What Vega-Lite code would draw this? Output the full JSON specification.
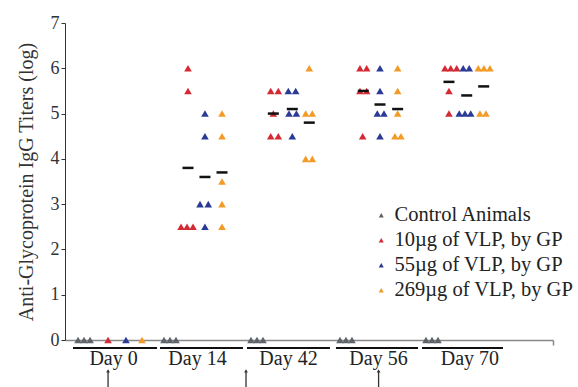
{
  "$schema": "https://vega.github.io/schema/vega-lite/v6.json",
  "width": 488,
  "height": 317,
  "autosize": "none",
  "padding": {"left": 65, "top": 23, "right": 25, "bottom": 47},
  "background": "white",
  "config": {"view": {"stroke": null}, "font": "Liberation Serif"},
  "datasets": {
    "points": [
      {"day": "Day 0", "group": "Control Animals", "titer": 0, "pos": -0.425},
      {"day": "Day 0", "group": "Control Animals", "titer": 0, "pos": -0.356},
      {"day": "Day 0", "group": "Control Animals", "titer": 0, "pos": -0.287},
      {"day": "Day 0", "group": "10µg of VLP, by GP", "titer": 0, "pos": -0.08},
      {"day": "Day 0", "group": "55µg of VLP, by GP", "titer": 0, "pos": 0.126},
      {"day": "Day 0", "group": "269µg of VLP, by GP", "titer": 0, "pos": 0.31},
      {"day": "Day 14", "group": "Control Animals", "titer": 0, "pos": 0.563},
      {"day": "Day 14", "group": "Control Animals", "titer": 0, "pos": 0.632},
      {"day": "Day 14", "group": "Control Animals", "titer": 0, "pos": 0.701},
      {"day": "Day 14", "group": "10µg of VLP, by GP", "titer": 6, "pos": 0.839},
      {"day": "Day 14", "group": "10µg of VLP, by GP", "titer": 5.5, "pos": 0.839},
      {"day": "Day 14", "group": "10µg of VLP, by GP", "titer": 2.5, "pos": 0.759},
      {"day": "Day 14", "group": "10µg of VLP, by GP", "titer": 2.5, "pos": 0.828},
      {"day": "Day 14", "group": "10µg of VLP, by GP", "titer": 2.5, "pos": 0.897},
      {"day": "Day 14", "group": "55µg of VLP, by GP", "titer": 5, "pos": 1.034},
      {"day": "Day 14", "group": "55µg of VLP, by GP", "titer": 4.5, "pos": 1.034},
      {"day": "Day 14", "group": "55µg of VLP, by GP", "titer": 3, "pos": 0.977},
      {"day": "Day 14", "group": "55µg of VLP, by GP", "titer": 3, "pos": 1.072},
      {"day": "Day 14", "group": "55µg of VLP, by GP", "titer": 2.5, "pos": 1.034},
      {"day": "Day 14", "group": "269µg of VLP, by GP", "titer": 5, "pos": 1.23},
      {"day": "Day 14", "group": "269µg of VLP, by GP", "titer": 4.5, "pos": 1.23},
      {"day": "Day 14", "group": "269µg of VLP, by GP", "titer": 3.5, "pos": 1.23},
      {"day": "Day 14", "group": "269µg of VLP, by GP", "titer": 3, "pos": 1.23},
      {"day": "Day 14", "group": "269µg of VLP, by GP", "titer": 2.5, "pos": 1.23},
      {"day": "Day 42", "group": "Control Animals", "titer": 0, "pos": 1.563},
      {"day": "Day 42", "group": "Control Animals", "titer": 0, "pos": 1.632},
      {"day": "Day 42", "group": "Control Animals", "titer": 0, "pos": 1.701},
      {"day": "Day 42", "group": "10µg of VLP, by GP", "titer": 5.5, "pos": 1.79},
      {"day": "Day 42", "group": "10µg of VLP, by GP", "titer": 5.5, "pos": 1.877},
      {"day": "Day 42", "group": "10µg of VLP, by GP", "titer": 5, "pos": 1.82},
      {"day": "Day 42", "group": "10µg of VLP, by GP", "titer": 4.5, "pos": 1.79},
      {"day": "Day 42", "group": "10µg of VLP, by GP", "titer": 4.5, "pos": 1.877},
      {"day": "Day 42", "group": "55µg of VLP, by GP", "titer": 5.5, "pos": 1.992},
      {"day": "Day 42", "group": "55µg of VLP, by GP", "titer": 5.5, "pos": 2.077},
      {"day": "Day 42", "group": "55µg of VLP, by GP", "titer": 5, "pos": 2.0},
      {"day": "Day 42", "group": "55µg of VLP, by GP", "titer": 5, "pos": 2.085},
      {"day": "Day 42", "group": "55µg of VLP, by GP", "titer": 4.5, "pos": 2.038},
      {"day": "Day 42", "group": "269µg of VLP, by GP", "titer": 6, "pos": 2.233},
      {"day": "Day 42", "group": "269µg of VLP, by GP", "titer": 5, "pos": 2.192},
      {"day": "Day 42", "group": "269µg of VLP, by GP", "titer": 5, "pos": 2.268},
      {"day": "Day 42", "group": "269µg of VLP, by GP", "titer": 4, "pos": 2.192},
      {"day": "Day 42", "group": "269µg of VLP, by GP", "titer": 4, "pos": 2.268},
      {"day": "Day 56", "group": "Control Animals", "titer": 0, "pos": 2.586},
      {"day": "Day 56", "group": "Control Animals", "titer": 0, "pos": 2.655},
      {"day": "Day 56", "group": "Control Animals", "titer": 0, "pos": 2.724},
      {"day": "Day 56", "group": "10µg of VLP, by GP", "titer": 6, "pos": 2.816},
      {"day": "Day 56", "group": "10µg of VLP, by GP", "titer": 6, "pos": 2.893},
      {"day": "Day 56", "group": "10µg of VLP, by GP", "titer": 5.5, "pos": 2.816},
      {"day": "Day 56", "group": "10µg of VLP, by GP", "titer": 5.5, "pos": 2.893},
      {"day": "Day 56", "group": "10µg of VLP, by GP", "titer": 4.5, "pos": 2.847},
      {"day": "Day 56", "group": "55µg of VLP, by GP", "titer": 6, "pos": 3.046},
      {"day": "Day 56", "group": "55µg of VLP, by GP", "titer": 5.5, "pos": 3.046},
      {"day": "Day 56", "group": "55µg of VLP, by GP", "titer": 5, "pos": 3.015},
      {"day": "Day 56", "group": "55µg of VLP, by GP", "titer": 5, "pos": 3.092},
      {"day": "Day 56", "group": "55µg of VLP, by GP", "titer": 4.5, "pos": 3.046},
      {"day": "Day 56", "group": "269µg of VLP, by GP", "titer": 6, "pos": 3.249},
      {"day": "Day 56", "group": "269µg of VLP, by GP", "titer": 5.5, "pos": 3.249},
      {"day": "Day 56", "group": "269µg of VLP, by GP", "titer": 5, "pos": 3.249},
      {"day": "Day 56", "group": "269µg of VLP, by GP", "titer": 4.5, "pos": 3.218},
      {"day": "Day 56", "group": "269µg of VLP, by GP", "titer": 4.5, "pos": 3.287},
      {"day": "Day 70", "group": "Control Animals", "titer": 0, "pos": 3.575},
      {"day": "Day 70", "group": "Control Animals", "titer": 0, "pos": 3.644},
      {"day": "Day 70", "group": "Control Animals", "titer": 0, "pos": 3.713},
      {"day": "Day 70", "group": "10µg of VLP, by GP", "titer": 6, "pos": 3.793},
      {"day": "Day 70", "group": "10µg of VLP, by GP", "titer": 6, "pos": 3.859},
      {"day": "Day 70", "group": "10µg of VLP, by GP", "titer": 6, "pos": 3.928},
      {"day": "Day 70", "group": "10µg of VLP, by GP", "titer": 5.5, "pos": 3.839},
      {"day": "Day 70", "group": "10µg of VLP, by GP", "titer": 5, "pos": 3.839},
      {"day": "Day 70", "group": "55µg of VLP, by GP", "titer": 6, "pos": 4.003},
      {"day": "Day 70", "group": "55µg of VLP, by GP", "titer": 6, "pos": 4.072},
      {"day": "Day 70", "group": "55µg of VLP, by GP", "titer": 5, "pos": 3.957},
      {"day": "Day 70", "group": "55µg of VLP, by GP", "titer": 5, "pos": 4.023},
      {"day": "Day 70", "group": "55µg of VLP, by GP", "titer": 5, "pos": 4.089},
      {"day": "Day 70", "group": "269µg of VLP, by GP", "titer": 6, "pos": 4.176},
      {"day": "Day 70", "group": "269µg of VLP, by GP", "titer": 6, "pos": 4.241},
      {"day": "Day 70", "group": "269µg of VLP, by GP", "titer": 6, "pos": 4.31},
      {"day": "Day 70", "group": "269µg of VLP, by GP", "titer": 5, "pos": 4.195},
      {"day": "Day 70", "group": "269µg of VLP, by GP", "titer": 5, "pos": 4.264}
    ],
    "means": [
      {"day": "Day 14", "group": "10µg of VLP, by GP", "mean": 3.8, "pos": 0.839},
      {"day": "Day 14", "group": "55µg of VLP, by GP", "mean": 3.6, "pos": 1.034},
      {"day": "Day 14", "group": "269µg of VLP, by GP", "mean": 3.7, "pos": 1.23},
      {"day": "Day 42", "group": "10µg of VLP, by GP", "mean": 5.0, "pos": 1.82},
      {"day": "Day 42", "group": "55µg of VLP, by GP", "mean": 5.1, "pos": 2.038},
      {"day": "Day 42", "group": "269µg of VLP, by GP", "mean": 4.8, "pos": 2.233},
      {"day": "Day 56", "group": "10µg of VLP, by GP", "mean": 5.5, "pos": 2.854},
      {"day": "Day 56", "group": "55µg of VLP, by GP", "mean": 5.2, "pos": 3.046},
      {"day": "Day 56", "group": "269µg of VLP, by GP", "mean": 5.1, "pos": 3.249},
      {"day": "Day 70", "group": "10µg of VLP, by GP", "mean": 5.7, "pos": 3.839},
      {"day": "Day 70", "group": "55µg of VLP, by GP", "mean": 5.4, "pos": 4.043},
      {"day": "Day 70", "group": "269µg of VLP, by GP", "mean": 5.6, "pos": 4.238}
    ],
    "days": [
      {"day": "Day 0", "start": -0.483, "end": 0.483, "label_pos": -0.017, "line_y": -0.177, "label_y": -0.55},
      {"day": "Day 14", "start": 0.517, "end": 1.471, "label_pos": 0.948, "line_y": -0.177, "label_y": -0.55},
      {"day": "Day 42", "start": 1.517, "end": 2.471, "label_pos": 1.994, "line_y": -0.177, "label_y": -0.55},
      {"day": "Day 56", "start": 2.54, "end": 3.483, "label_pos": 3.029, "line_y": -0.177, "label_y": -0.55},
      {"day": "Day 70", "start": 3.529, "end": 4.46, "label_pos": 4.08, "line_y": -0.177, "label_y": -0.55}
    ],
    "arrows": [
      {"pos": -0.08, "top": -0.68, "bottom": -1.1},
      {"pos": 1.506, "top": -0.68, "bottom": -1.1},
      {"pos": 3.03, "top": -0.68, "bottom": -1.1}
    ]
  },
  "layer": [
    {
      "data": {"name": "points"},
      "mark": {"type": "point", "shape": "triangle-up", "filled": true, "opacity": 1, "size": 58},
      "encoding": {
        "x": {"field": "pos", "type": "quantitative",
              "scale": {"domain": [-0.575, 5.035], "nice": false, "zero": false},
              "axis": {"title": null, "labels": false, "grid": false, "values": [5.035], "tickSize": 5, "tickColor": "#888", "domainColor": "#888", "domainWidth": 1.5, "tickWidth": 1.5}},
        "y": {"field": "titer", "type": "quantitative",
              "scale": {"domain": [0, 7], "nice": false},
              "axis": {"title": "Anti-Glycoprotein IgG Titers (log)", "values": [0, 1, 2, 3, 4, 5, 6, 7], "grid": false,
                       "domainColor": "#333", "tickColor": "#333", "tickSize": 4, "labelFontSize": 18, "labelColor": "#333",
                       "labelFont": "Liberation Serif", "labelPadding": 2, "titleFont": "Liberation Serif", "titleFontSize": 20,
                       "titleFontWeight": "normal", "titleColor": "#333", "titlePadding": 14}},
        "color": {"field": "group", "type": "nominal",
                  "scale": {"domain": ["Control Animals", "10µg of VLP, by GP", "55µg of VLP, by GP", "269µg of VLP, by GP"],
                            "range": ["#5f646a", "#d42a33", "#2b3a96", "#f49b27"]},
                  "legend": {"title": null, "orient": "none", "legendX": 306, "legendY": 182, "symbolType": "triangle-up",
                             "symbolSize": 25, "labelFontSize": 20.5, "labelFont": "Liberation Serif", "labelColor": "#222",
                             "rowPadding": 4, "labelLimit": 400, "labelOffset": 3}}
      }
    },
    {
      "data": {"name": "means"},
      "mark": {"type": "tick", "orient": "horizontal", "color": "#111", "opacity": 1, "size": 11, "thickness": 2.5},
      "encoding": {
        "x": {"field": "pos", "type": "quantitative"},
        "y": {"field": "mean", "type": "quantitative"}
      }
    },
    {
      "data": {"name": "days"},
      "mark": {"type": "rule", "color": "#111", "strokeWidth": 2},
      "encoding": {
        "x": {"field": "start", "type": "quantitative"},
        "x2": {"field": "end"},
        "y": {"field": "line_y", "type": "quantitative"}
      }
    },
    {
      "data": {"name": "days"},
      "mark": {"type": "text", "fontSize": 20, "font": "Liberation Serif", "color": "#222", "baseline": "alphabetic", "align": "center"},
      "encoding": {
        "x": {"field": "label_pos", "type": "quantitative"},
        "y": {"field": "label_y", "type": "quantitative"},
        "text": {"field": "day"}
      }
    },
    {
      "data": {"name": "arrows"},
      "mark": {"type": "rule", "color": "#333", "strokeWidth": 1.3},
      "encoding": {
        "x": {"field": "pos", "type": "quantitative"},
        "y": {"field": "top", "type": "quantitative"},
        "y2": {"field": "bottom"}
      }
    },
    {
      "data": {"name": "arrows"},
      "mark": {"type": "point", "shape": "triangle-up", "filled": true, "color": "#333", "opacity": 1, "size": 14},
      "encoding": {
        "x": {"field": "pos", "type": "quantitative"},
        "y": {"field": "top", "type": "quantitative"}
      }
    }
  ]
}
